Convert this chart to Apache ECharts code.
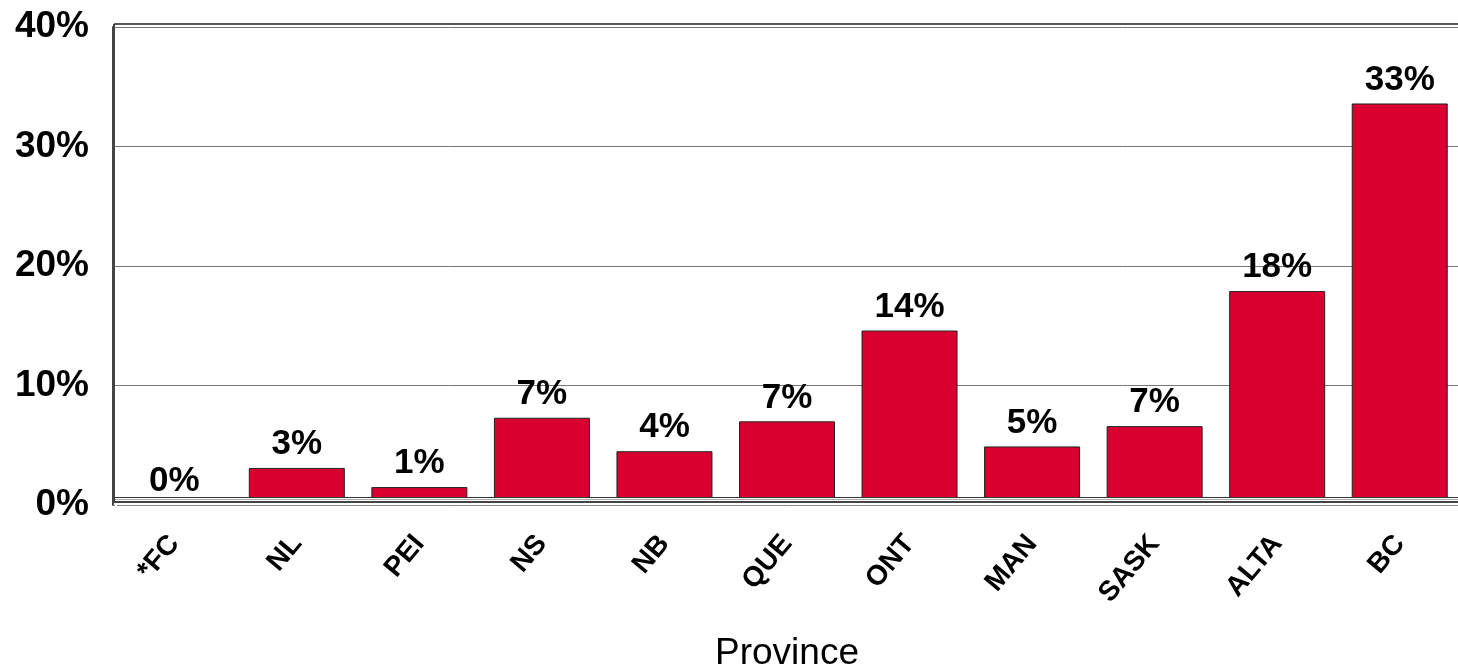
<!DOCTYPE html>
<html>
<head>
<meta charset="utf-8">
<script src="https://cdn.jsdelivr.net/npm/echarts@6/dist/echarts.min.js"></script>
<style>
  html, body { margin: 0; padding: 0; background: #fff; }
  #chart { width: 1458px; height: 668px; }
</style>
</head>
<body>
<div id="chart"></div>
<script>
// provinces, share in percent
const provinces = ['*FC', 'NL', 'PEI', 'NS', 'NB', 'QUE', 'ONT', 'MAN', 'SASK', 'ALTA', 'BC']
const shares = [0, 3.1, 1.5, 7.3, 4.5, 7.0, 14.6, 4.9, 6.6, 17.9, 33.6]
const shareLabels = ['0%', '3%', '1%', '7%', '4%', '7%', '14%', '5%', '7%', '18%', '33%']
const yTicks = [0, 10, 20, 30, 40]

const font = '"Liberation Sans", Arial, sans-serif'
const chart = echarts.init(document.getElementById('chart'))

const option = {
  animation: false,
  grid: { left: 113, right: -3, top: 27, bottom: 163, containLabel: false, outerBoundsMode: 'none' },
  xAxis: {
    type: 'category',
    data: provinces,
    name: 'Province',
    nameLocation: 'middle',
    nameGap: 130,
    nameTextStyle: { fontFamily: font, fontSize: 37, color: '#000' },
    axisLine: { show: true, lineStyle: { color: '#888', width: 1 } },
    axisTick: { show: false },
    axisLabel: {
      rotate: 50,
      margin: 34,
      fontFamily: font,
      fontWeight: 'bold',
      fontSize: 28,
      color: '#000'
    }
  },
  yAxis: {
    type: 'value',
    min: yTicks[0],
    max: yTicks[yTicks.length - 1],
    interval: 10,
    axisLine: { show: true, lineStyle: { color: '#444', width: 2 } },
    axisTick: { show: false },
    splitLine: { lineStyle: { color: '#777', width: 1 } },
    axisLabel: {
      formatter: '{value}%',
      margin: 24,
      fontFamily: font,
      fontWeight: 'bold',
      fontSize: 37,
      color: '#000'
    }
  },
  series: [{
    type: 'bar',
    data: shares,
    barWidth: 96,
    itemStyle: { color: '#d9002f', borderColor: '#222', borderWidth: 1 },
    label: {
      show: true,
      position: 'top',
      distance: 6,
      formatter: p => shareLabels[p.dataIndex],
      fontFamily: font,
      fontWeight: 'bold',
      fontSize: 35,
      color: '#000'
    },
    z: 2
  }]
}
chart.setOption(option)

// floor and top edge, placed from the axis scale
const y0 = chart.convertToPixel({ yAxisIndex: 0 }, 0)
const yTop = chart.convertToPixel({ yAxisIndex: 0 }, yTicks[yTicks.length - 1])
const xL = 114
const xR = 1458
chart.setOption({
  graphic: [
    { type: 'rect', z: 10, shape: { x: xL + 1, y: y0 - 7.5, width: xR - xL, height: 9 }, style: { fill: '#fff' } },
    { type: 'line', z: 11, shape: { x1: xL, y1: y0 - 7.5, x2: xR, y2: y0 - 7.5 }, style: { stroke: '#333', lineWidth: 1 } },
    { type: 'line', z: 11, shape: { x1: xL, y1: y0 - 5.5, x2: xR, y2: y0 - 5.5 }, style: { stroke: '#aaa', lineWidth: 1 } },
    { type: 'line', z: 11, shape: { x1: xL - 1, y1: y0 - 3, x2: xR, y2: y0 - 3 }, style: { stroke: '#444', lineWidth: 2 } },
    { type: 'line', z: 11, shape: { x1: xL + 3, y1: y0 + 0.5, x2: xR, y2: y0 + 0.5 }, style: { stroke: '#888', lineWidth: 1 } },
    { type: 'line', z: 11, shape: { x1: xL, y1: yTop - 3, x2: xL, y2: y0 - 2 }, style: { stroke: '#444', lineWidth: 2 } },
    { type: 'line', z: 11, shape: { x1: xL, y1: yTop - 3, x2: xR, y2: yTop - 3 }, style: { stroke: '#222', lineWidth: 1.5 } }
  ]
})
</script>
</body>
</html>
